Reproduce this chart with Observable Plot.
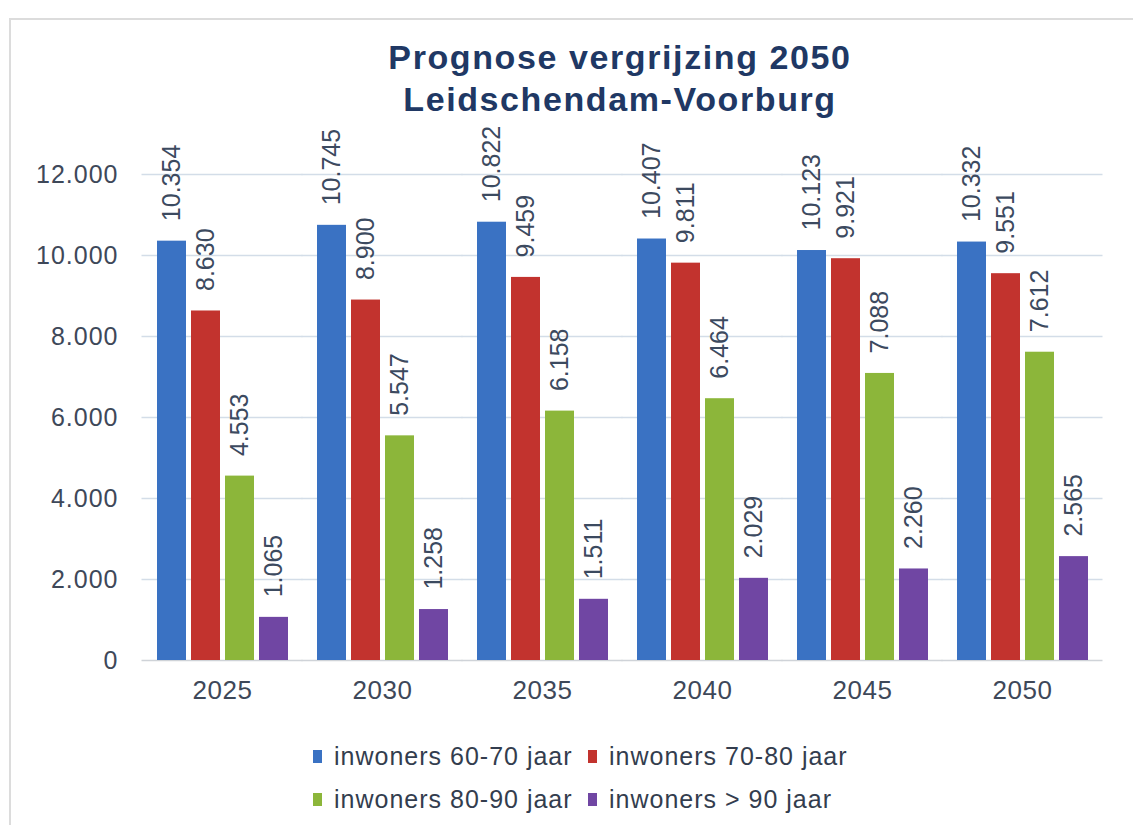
<!DOCTYPE html>
<html>
<head>
<meta charset="utf-8">
<script src="https://cdn.jsdelivr.net/npm/d3@7"></script>
<script src="https://cdn.jsdelivr.net/npm/@observablehq/plot@0.6"></script>
<style>
  html, body { margin: 0; padding: 0; background: #fff; }
  body { width: 1133px; height: 825px; overflow: hidden; position: relative; font-family: "Liberation Sans", Arial, sans-serif; }
  #frame { position: absolute; left: 9px; top: 18px; width: 1200px; height: 900px; border-left: 2px solid #dcdcdc; border-top: 2px solid #dcdcdc; box-sizing: border-box; }
  #title { position: absolute; left: 0; width: 1240px; top: 36px; text-align: center; font-weight: bold; font-size: 34px; line-height: 42px; color: #203864; letter-spacing: 1.6px; }
  #chart { position: absolute; left: 0; top: 80px; }
  #chart svg { overflow: visible; }
  #legend { position: absolute; left: 313px; top: 735px; display: grid; grid-template-columns: 275px auto; font-size: 25px; line-height: 43px; color: #333d4e; letter-spacing: 1px; }
  #legend .item { display: flex; align-items: center; white-space: nowrap; }
  #legend .sw { display: inline-block; width: 9px; height: 13px; margin-right: 12px; }
</style>
</head>
<body>
<div id="frame"></div>
<div id="title"></div>
<div id="chart"></div>
<div id="legend"></div>
<script>
const titleLines = ["Prognose vergrijzing 2050", "Leidschendam-Voorburg"];
const years = ["2025", "2030", "2035", "2040", "2045", "2050"];
const series = ["inwoners 60-70 jaar", "inwoners 70-80 jaar", "inwoners 80-90 jaar", "inwoners > 90 jaar"];
const colors = ["#3A72C3", "#C2332E", "#8CB63A", "#7046A3"];
const v6070 = [10354, 10745, 10822, 10407, 10123, 10332];
const v7080 = [8630, 8900, 9459, 9811, 9921, 9551];
const v8090 = [4553, 5547, 6158, 6464, 7088, 7612];
const v90 = [1065, 1258, 1511, 2029, 2260, 2565];
const yTicks = [0, 2000, 4000, 6000, 8000, 10000, 12000];

const seriesValues = [v6070, v7080, v8090, v90];
const data = [];
years.forEach((yr, i) => {
  series.forEach((s, j) => data.push({year: yr, series: s, value: seriesValues[j][i]}));
});

const nl = d3.formatLocale({decimal: ",", thousands: ".", grouping: [3], currency: ["€", ""]});
const fmt = nl.format(",d");

document.getElementById("title").innerHTML = titleLines.map(t => `<div>${t}</div>`).join("");

const axisColor = "#3e4859";
const plot = Plot.plot({
  width: 1133,
  height: 630,
  marginLeft: 141,
  marginRight: 30,
  marginTop: 94,
  marginBottom: 50,
  style: {fontFamily: "Liberation Sans, Arial, sans-serif", background: "transparent", overflow: "visible"},
  fx: {domain: years, paddingInner: 0.177, paddingOuter: 0.0885, axis: "bottom", label: null, tickSize: 0, tickPadding: 20},
  x: {domain: series, paddingInner: 0.15, paddingOuter: 0, axis: null},
  y: {domain: [0, 12000], ticks: yTicks, tickFormat: fmt, tickSize: 0, tickPadding: 38, label: null},
  color: {domain: series, range: colors},
  marks: [
    Plot.ruleY(yTicks.filter(d => d > 0), {stroke: "#d3dde8", strokeWidth: 1.5, insetLeft: -14.5, insetRight: -14.5}),
    Plot.ruleY([0], {stroke: "#cfd3d8", strokeWidth: 1.5, insetLeft: -14.5, insetRight: -14.5}),
    Plot.barY(data, {fx: "year", x: "series", y: "value", fill: "series"}),
    Plot.text(data, {fx: "year", x: "series", y: "value", text: d => fmt(d.value), rotate: -90, textAnchor: "start", lineAnchor: "middle", dy: -20, fontSize: 25, fill: "#3c4a5f", letterSpacing: 1})
  ]
});
plot.querySelectorAll("[aria-label='y-axis'] text, [aria-label='y-axis tick label'] text").forEach(t => {
  t.setAttribute("font-size", 25); t.setAttribute("fill", axisColor); t.style.letterSpacing = "1px";
});
plot.querySelectorAll("[aria-label='fx-axis'] text, [aria-label='fx-axis tick label'] text").forEach(t => {
  t.setAttribute("font-size", 26); t.setAttribute("fill", axisColor); t.style.letterSpacing = "0.5px";
});
document.getElementById("chart").appendChild(plot);

document.getElementById("legend").innerHTML = series.map((s, i) =>
  `<div class="item"><span class="sw" style="background:${colors[i]}"></span><span>${s.replace(">", "&gt;")}</span></div>`).join("");
</script>
</body>
</html>
